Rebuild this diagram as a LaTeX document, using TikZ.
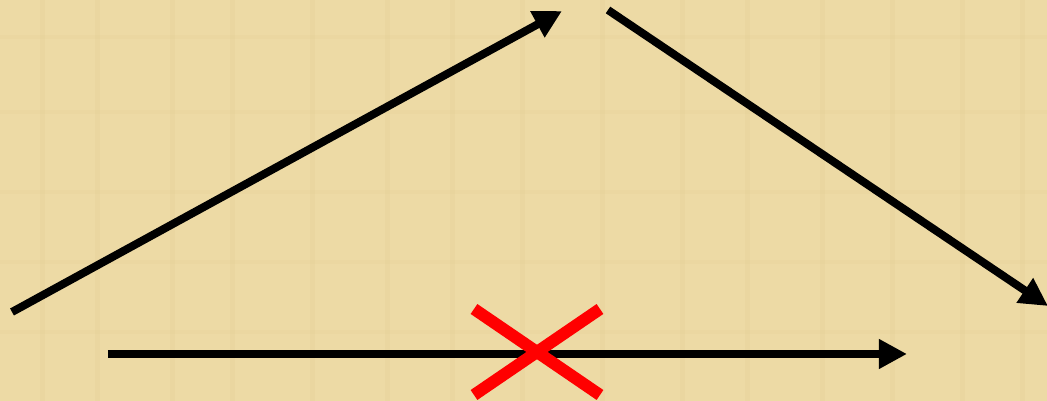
\documentclass[tikz,border=0pt]{standalone}
\usepackage{tikz}
\usetikzlibrary{arrows.meta,calc}
\definecolor{papyrus}{RGB}{237,218,165}
\definecolor{papyrusdark}{RGB}{224,201,140}
\definecolor{crossred}{RGB}{255,0,0}
\tikzset{arr/.style={-{Triangle[length=0.28cm,width=0.28cm]},line width=0.08cm,black},
  cross/.style={line width=0.12cm,crossred}}

\begin{document}
\begin{tikzpicture}[x=0.01cm,y=-0.01cm]
\fill[papyrus] (0,0) rectangle (1047,401);
\useasboundingbox (0,0) rectangle (1047,401);
% faint fibres of the papyrus
\foreach \xx in {40,95,170,230,310,385,450,520,600,680,745,820,890,960,1020}
  \fill[papyrusdark,opacity=0.2] (\xx,0) rectangle ++(5,401);
\foreach \yy in {35,110,190,260,330}
  \fill[papyrusdark,opacity=0.15] (0,\yy) rectangle ++(1047,4);
\coordinate (left) at (12,312);
\coordinate (top) at (562,11);
\coordinate (topr) at (608,10);
\coordinate (right) at (1048,306);
\coordinate (base) at (108,354);
\coordinate (baseend) at (907,354);
\draw[arr] (left) -- (top);
\draw[arr] (topr) -- (right);
\draw[arr] (base) -- (baseend);
% the crossing out
\draw[cross] (474,309) -- (600,395);
\draw[cross] (600,309) -- (474,395);
\end{tikzpicture}
\end{document}
